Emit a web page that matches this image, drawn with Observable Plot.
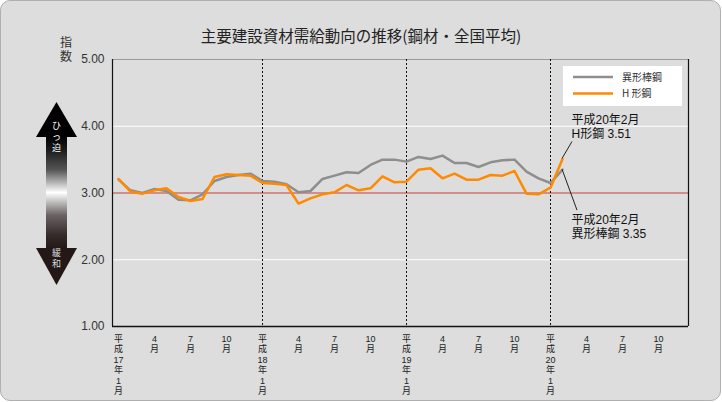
<!DOCTYPE html>
<html><head><meta charset="utf-8">
<script src="https://cdn.jsdelivr.net/npm/d3@7"></script>
<script src="https://cdn.jsdelivr.net/npm/@observablehq/plot@0.6"></script>
<style>
body{margin:0;background:#fff;}
#wrap{position:relative;width:722px;height:402px;font-family:"Noto Sans CJK JP",sans-serif;overflow:hidden;}
#panel{position:absolute;left:0;top:0;width:719px;height:399px;border:1px solid #b0b0b0;border-radius:10px;background:#dddddd;}
#chart{position:absolute;left:0;top:0;}
#title{position:absolute;left:0;width:722px;top:26px;line-height:18px;text-align:center;font-size:15.5px;color:#222;}
#deco{position:absolute;left:0;top:0;}
#legend{position:absolute;left:563px;top:66px;width:119px;height:40px;background:#fff;}
</style></head>
<body>
<div id="wrap">
  <div id="panel"></div>
  <div id="title">主要建設資材需給動向の推移(鋼材・全国平均)</div>
  <svg id="deco" width="110" height="300"></svg>
  <div id="chart"></div>
  <div id="legend"></div>
</div>
<script>
// ---- data (monthly, 平成17年1月 .. 平成20年2月) ----
const seriesNames = ["異形棒鋼", "H 形鋼"];
const deformedBar = [3.20,3.04,3.00,3.06,3.03,2.90,2.89,2.98,3.18,3.24,3.27,3.29,
                     3.18,3.17,3.13,3.01,3.03,3.21,3.26,3.31,3.30,3.42,3.50,3.50,
                     3.47,3.54,3.51,3.56,3.45,3.45,3.39,3.46,3.49,3.50,3.32,3.22,
                     3.15,3.35];
const hBeam =       [3.21,3.02,2.99,3.04,3.07,2.94,2.88,2.91,3.24,3.28,3.27,3.26,
                     3.15,3.14,3.12,2.84,2.92,2.98,3.01,3.12,3.04,3.07,3.25,3.16,
                     3.17,3.35,3.37,3.22,3.29,3.20,3.20,3.27,3.26,3.33,2.99,2.98,
                     3.08,3.51];
const yTicks = [1, 2, 3, 4, 5];
const tickMonths = [0,3,6,9,12,15,18,21,24,27,30,33,36,39,42,45];
const tickLabels = ["平\n成\n17\n年\n1\n月","4\n月","7\n月","10\n月",
                    "平\n成\n18\n年\n1\n月","4\n月","7\n月","10\n月",
                    "平\n成\n19\n年\n1\n月","4\n月","7\n月","10\n月",
                    "平\n成\n20\n年\n1\n月","4\n月","7\n月","10\n月"];
const yearStarts = [12, 24, 36];
const lastLabel = "平成20年2月";

const grayCol = "#8e8e8e", orangeCol = "#ff8a00";
const mixedFont = "'Liberation Sans','Noto Sans CJK JP',sans-serif";
const rows = (vals) => vals.map((v, i) => ({m: i, v}));
const last = deformedBar.length - 1;

// leader lines drawn with the scales, offsets in pixels
function leaders(index, scales) {
  const g = d3.create("svg:g").attr("stroke", "#222").attr("stroke-width", 1);
  const px = scales.x(last);
  g.append("line").attr("x1", px).attr("y1", scales.y(hBeam[last]))
    .attr("x2", px + 10).attr("y2", scales.y(hBeam[last]) - 17);
  g.append("line").attr("x1", px).attr("y1", scales.y(deformedBar[last]))
    .attr("x2", px + 15).attr("y2", scales.y(deformedBar[last]) + 41);
  return g.node();
}

const plot = Plot.plot({
  width: 722, height: 402,
  marginTop: 59, marginBottom: 76, marginLeft: 112, marginRight: 34,
  style: {background: "transparent", fontFamily: mixedFont},
  x: {type: "linear", domain: [-0.5, 47.5], axis: null},
  y: {domain: [1, 5]},
  marks: [
    Plot.ruleY([2, 4], {stroke: "#fff", strokeWidth: 1}),
    Plot.ruleY([5], {stroke: "#9a9a9a", strokeWidth: 1}),
    Plot.ruleY([3], {stroke: "#c8403c", strokeWidth: 1.2}),
    Plot.ruleX(yearStarts, {stroke: "#111", strokeWidth: 1, strokeDasharray: "2,2"}),
    Plot.ruleX([-0.5, 47.5], {stroke: "#111", strokeWidth: 1.2}),
    Plot.ruleY([1], {stroke: "#111", strokeWidth: 1.5}),
    Plot.line(rows(deformedBar), {x: "m", y: "v", stroke: grayCol, strokeWidth: 2.5}),
    Plot.line(rows(hBeam), {x: "m", y: "v", stroke: orangeCol, strokeWidth: 2.5}),
    leaders,
    Plot.text([hBeam[last]], {x: () => last, y: d => d, dx: 9, dy: -45,
      text: d => lastLabel + "\nH形鋼 " + d.toFixed(2), textAnchor: "start", lineAnchor: "top",
      lineHeight: 1.17, fontSize: 12, fill: "#111", fontFamily: mixedFont}),
    Plot.text([deformedBar[last]], {x: () => last, y: d => d, dx: 9, dy: 44,
      text: d => lastLabel + "\n異形棒鋼 " + d.toFixed(2), textAnchor: "start", lineAnchor: "top",
      lineHeight: 1.17, fontSize: 12, fill: "#111", fontFamily: mixedFont}),
    Plot.axisY({ticks: yTicks, tickFormat: d3.format(".2f"), tickSize: 0, tickPadding: 8,
      fontSize: 12, fill: "#333", label: null}),
    Plot.text(tickMonths, {x: d => d, text: (d, i) => tickLabels[i], frameAnchor: "bottom",
      dy: 8, lineAnchor: "top", lineHeight: 1.16, fontSize: 9, fill: "#222",
      fontFamily: mixedFont})
  ]
});
document.getElementById("chart").appendChild(plot);

// legend
const lg = d3.select("#legend").append("svg").attr("width", 119).attr("height", 40);
[grayCol, orangeCol].forEach((c, i) => {
  lg.append("line").attr("x1", 10).attr("x2", 50).attr("y1", 11 + i * 16.5).attr("y2", 11 + i * 16.5)
    .attr("stroke", c).attr("stroke-width", 2.5);
  lg.append("text").attr("x", 59).attr("y", 11 + i * 16.5).attr("dy", "0.36em")
    .attr("font-size", 10).attr("fill", "#333").attr("font-family", "'Noto Sans CJK JP',sans-serif")
    .text(seriesNames[i]);
});

// decorative arrow + 指数 label
const deco = d3.select("#deco");
const defs = deco.append("defs");
const gr = defs.append("linearGradient").attr("id", "sg").attr("x1", 0).attr("x2", 0).attr("y1", 0).attr("y2", 1);
[[0, "#000"], [0.12, "#1a1a1a"], [0.3, "#555"], [0.5, "#ffffff"], [0.7, "#6a6363"], [0.88, "#342a28"], [1, "#231815"]]
  .forEach(([o, c]) => gr.append("stop").attr("offset", o).attr("stop-color", c));
deco.append("rect").attr("x", 46).attr("y", 136).attr("width", 21).attr("height", 113).attr("fill", "url(#sg)");
deco.append("polygon").attr("points", "56.5,102 77,137 36,137").attr("fill", "#000");
deco.append("polygon").attr("points", "36,248 77,248 56.5,285").attr("fill", "#231815");
const vt = (ch, y, fs, col) => deco.append("text").attr("x", 56.5).attr("y", y).attr("dy", "0.36em")
  .attr("text-anchor", "middle").attr("font-size", fs).attr("fill", col)
  .attr("font-family", mixedFont).text(ch);
vt("ひ", 126, 9, "#fff"); vt("っ", 137, 9, "#fff"); vt("迫", 148, 9, "#fff");
vt("緩", 253, 9, "#ddd"); vt("和", 264, 9, "#ddd");
const lab = (ch, y) => deco.append("text").attr("x", 66).attr("y", y).attr("dy", "0.36em")
  .attr("text-anchor", "middle").attr("font-size", 12).attr("fill", "#333")
  .attr("font-family", mixedFont).text(ch);
lab("指", 43); lab("数", 57);
</script>
</body></html>
